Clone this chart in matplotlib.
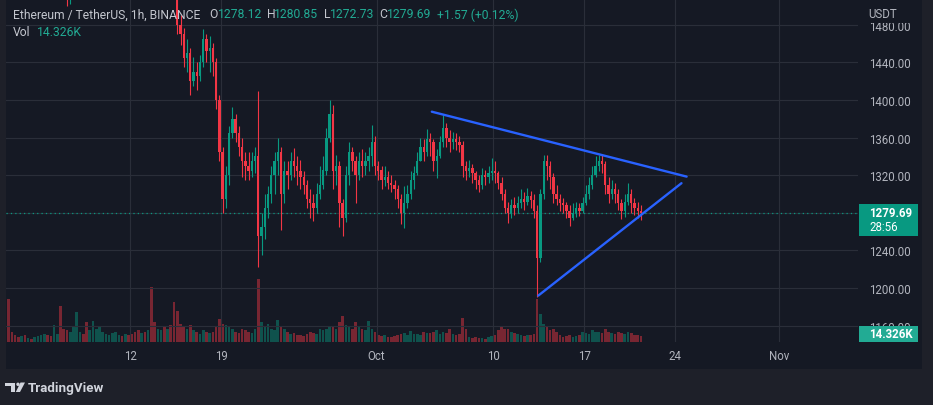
import numpy as np
import pandas as pd
import matplotlib
matplotlib.use("Agg")
import matplotlib.pyplot as plt
import matplotlib.dates as mdates
from matplotlib.patches import Rectangle, Polygon, Circle

plt.rcParams["font.family"] = ["Roboto", "DejaVu Sans"]

# ETH/USDT, 6h bars (one row per day: 00, 06, 12, 18 UTC)
first_open = 1590
closes = [
    1585, 1578,                                   # Sep 2 (12h, 18h)
    1575, 1568, 1572, 1560,  1565, 1558, 1570, 1578,  1590, 1612, 1600, 1595,
    1612, 1620, 1580, 1565,  1520, 1525, 1580, 1630,  1640, 1635, 1625, 1635,
    1660, 1690, 1710, 1718,  1725, 1740, 1755, 1768,  1770, 1762, 1765, 1760,
    1745, 1725, 1715, 1718,  1710, 1720, 1600, 1575,  1590, 1620, 1615, 1638,
    1630, 1590, 1480, 1470,  1445, 1450, 1420, 1430,  1425, 1440, 1465, 1452,
    1455, 1440, 1400, 1345,  1295, 1320, 1365, 1380,  1365, 1350, 1335, 1330,
    1325, 1335, 1340, 1255,  1265, 1285, 1300, 1320,  1335, 1345, 1300, 1325,
    1320, 1335, 1330, 1325,  1318, 1310, 1295, 1290,  1285, 1300, 1310, 1325,
    1360, 1385, 1325, 1330,  1290, 1275, 1320, 1345,  1335, 1320, 1335, 1330,
    1335, 1340, 1355, 1330,                       # Sep 30
    1325, 1315, 1318, 1312,  1310, 1305, 1295, 1280,  1290, 1300, 1315, 1322,
    1335, 1350, 1345, 1358,  1355, 1335, 1340, 1355,  1370, 1360, 1355, 1358,
    1355, 1352, 1330, 1325,  1328, 1322, 1315, 1310,  1320, 1318, 1322, 1325,
    1322, 1312, 1300, 1285,  1280, 1288, 1285, 1290,  1295, 1292, 1298, 1294,
    1282, 1232, 1300, 1335,  1330, 1318, 1300, 1295,  1290, 1288, 1282, 1275,
    1280, 1285, 1282, 1290,  1300, 1310, 1320, 1330,  1335, 1332, 1310, 1300,
    1305, 1300, 1290, 1282,  1292, 1300, 1290, 1285,
    1282, 1279.69,                                # Oct 21
]
highs = [
    1598, 1590,
    1585, 1578, 1580, 1575,  1570, 1568, 1575, 1585,  1598, 1622, 1615, 1605,
    1622, 1640, 1625, 1585,  1568, 1540, 1590, 1640,  1650, 1648, 1640, 1645,
    1668, 1700, 1720, 1730,  1735, 1750, 1765, 1785,  1785, 1775, 1772, 1770,
    1765, 1750, 1730, 1725,  1725, 1730, 1725, 1610,  1600, 1630, 1635, 1645,
    1650, 1640, 1600, 1490,  1477, 1465, 1455, 1446,  1440, 1448, 1475, 1470,
    1468, 1460, 1445, 1405,  1350, 1330, 1372, 1393,  1385, 1372, 1360, 1345,
    1345, 1345, 1350, 1409,  1280, 1300, 1308, 1330,  1345, 1360, 1350, 1335,
    1335, 1345, 1349, 1340,  1336, 1325, 1315, 1305,  1300, 1312, 1330, 1340,
    1370, 1400, 1395, 1342,  1335, 1295, 1330, 1355,  1350, 1340, 1345, 1348,
    1345, 1350, 1373, 1362,
    1335, 1330, 1330, 1325,  1320, 1315, 1310, 1300,  1308, 1310, 1325, 1330,
    1345, 1360, 1358, 1369,  1365, 1358, 1348, 1362,  1384, 1375, 1368, 1366,
    1365, 1362, 1356, 1335,  1336, 1332, 1325, 1320,  1328, 1326, 1330, 1338,
    1335, 1325, 1318, 1305,  1292, 1295, 1297, 1298,  1305, 1302, 1306, 1303,
    1300, 1288, 1305, 1342,  1342, 1335, 1322, 1310,  1300, 1296, 1292, 1288,
    1290, 1292, 1290, 1297,  1310, 1318, 1330, 1340,  1342, 1342, 1335, 1318,
    1315, 1312, 1305, 1295,  1300, 1312, 1305, 1296,
    1292, 1288,
]
lows = [
    1570, 1565,
    1562, 1558, 1562, 1552,  1552, 1550, 1555, 1565,  1572, 1585, 1590, 1585,
    1595, 1605, 1570, 1545,  1500, 1502, 1520, 1575,  1620, 1620, 1605, 1620,
    1630, 1655, 1685, 1700,  1712, 1720, 1738, 1750,  1755, 1750, 1752, 1745,
    1735, 1715, 1705, 1700,  1695, 1700, 1580, 1560,  1565, 1585, 1600, 1610,
    1610, 1580, 1470, 1458,  1435, 1430, 1405, 1415,  1411, 1420, 1435, 1440,
    1430, 1425, 1390, 1335,  1280, 1285, 1310, 1360,  1355, 1340, 1318, 1315,
    1315, 1318, 1322, 1222,  1235, 1252, 1275, 1290,  1300, 1320, 1262, 1290,
    1305, 1315, 1318, 1310,  1305, 1300, 1285, 1275,  1271, 1280, 1295, 1305,
    1320, 1355, 1305, 1310,  1265, 1255, 1270, 1310,  1325, 1290, 1315, 1318,
    1320, 1325, 1330, 1320,
    1315, 1305, 1308, 1305,  1302, 1295, 1285, 1268,  1264, 1285, 1295, 1305,
    1320, 1335, 1335, 1340,  1340, 1325, 1317, 1338,  1350, 1350, 1345, 1348,
    1347, 1345, 1318, 1315,  1318, 1312, 1305, 1302,  1305, 1310, 1312, 1315,
    1312, 1305, 1294, 1280,  1269, 1275, 1278, 1280,  1285, 1283, 1288, 1285,
    1275, 1191, 1228, 1295,  1315, 1305, 1290, 1288,  1282, 1280, 1275, 1266,
    1272, 1276, 1277, 1280,  1288, 1295, 1305, 1318,  1325, 1322, 1300, 1290,
    1295, 1290, 1283, 1273,  1276, 1288, 1280, 1278,
    1274, 1272.73,
]
# volume in thousands
volumes = [
    130, 30,
    20, 15, 18, 22,  12, 10, 15, 18,  20, 25, 22, 18,  51, 24, 108, 40,
    35, 30, 45, 90,  30, 25, 60, 35,  63, 40, 45, 30,  25, 20, 28, 30,
    22, 18, 25, 20,  25, 30, 35, 28,  30, 35, 165, 60,  40, 35, 45, 38,
    50, 120, 93, 55,  45, 40, 50, 35,  30, 25, 35, 30,  28, 30, 45, 69,
    54, 51, 45, 40,  30, 28, 38, 35,  30, 28, 40, 190,  60, 45, 54, 40,
    35, 66, 45, 38,  30, 25, 28, 22,  20, 18, 25, 30,  28, 25, 40, 35,
    38, 48, 45, 40,  60, 78, 50, 45,  40, 60, 45, 38,  35, 63, 40, 30,
    22, 18, 20, 15,  15, 18, 20, 25,  28, 22, 33, 25,  25, 22, 30, 28,
    28, 30, 35, 25,  30, 28, 39, 25,  22, 25, 72, 39,  15, 12, 14, 12,
    12, 10, 14, 18,  20, 36, 45, 40,  38, 30, 28, 25,  20, 18, 22, 20,
    25, 129, 84, 54,  48, 35, 38, 30,  20, 15, 18, 22,  15, 18, 20, 30,
    28, 25, 35, 30,  30, 28, 39, 30,  28, 25, 30, 28,  25, 30, 28, 22,
    20, 18,
]

price_ticks = [1160, 1200, 1240, 1280, 1320, 1360, 1400, 1440, 1480]
date_ticks = ["2022-09-12", "2022-09-19", "2022-10-01", "2022-10-10",
              "2022-10-17", "2022-10-24", "2022-11-01"]
date_labels = ["12", "19", "Oct", "10", "17", "24", "Nov"]

# triangle drawn on the chart
upper_line_t = ["2022-10-05 06:00", "2022-10-24 21:30"]
upper_line_p = [1387.5, 1318.5]
lower_line_t = ["2022-10-13 11:00", "2022-10-24 12:00"]
lower_line_p = [1192, 1311.5]

last_price = 1279.69

W, H = 933, 406
BG_OUT = "#1e2029"
BG_PANE = "#151924"
GRID = "#2a2e39"
TXT = "#b2b5be"
UP = "#089981"
DOWN = "#f23645"
BLUE = "#2962ff"

o = np.array([first_open] + closes[:-1], dtype=float)
c = np.array(closes, dtype=float)
hi = np.array(highs, dtype=float)
lo = np.array(lows, dtype=float)
vol = np.array(volumes, dtype=float)

times = pd.date_range("2022-09-02 12:00", periods=len(c), freq="6h")
tc = mdates.date2num(times) + 0.125
colors = np.where(c >= o, UP, DOWN)

fig = plt.figure(figsize=(W / 100, H / 100), dpi=100, facecolor=BG_OUT)

# pane background
bg = fig.add_axes([0, 0, 1, 1], zorder=0)
bg.set_xlim(0, W)
bg.set_ylim(H, 0)
bg.axis("off")
bg.add_patch(Rectangle((6, 0), 916, 370, color=BG_PANE, lw=0))

ax = fig.add_axes([6 / W, (H - 343) / H, 852 / W, 343 / H], zorder=2)
ax.patch.set_visible(False)
vax = ax.twinx()
vax.set_zorder(1)
vax.patch.set_visible(False)
vax.set_axis_off()

# volume
vax.bar(tc, vol, width=0.2, color=colors, alpha=0.45, linewidth=0)
vax.set_ylim(0, 190 * 343 / 63)

# candles
ax.vlines(tc, lo, hi, colors=colors, lw=0.8, zorder=3)
body = np.maximum(np.abs(c - o), 0.8)
ax.bar(tc, body, bottom=np.minimum(o, c), width=0.18, color=colors,
       linewidth=0, zorder=3)

ax.axhline(last_price, color=UP, lw=0.9, ls=(0, (1, 2.5)), zorder=2)

ax.plot(mdates.date2num(pd.to_datetime(upper_line_t)), upper_line_p,
        color=BLUE, lw=1.7, solid_capstyle="round", zorder=4)
ax.plot(mdates.date2num(pd.to_datetime(lower_line_t)), lower_line_p,
        color=BLUE, lw=1.7, solid_capstyle="round", zorder=4)

x0 = mdates.date2num(pd.Timestamp("2022-10-01")) - 28.58
ax.set_xlim(x0, x0 + 28.58 + 37.11)
ax.set_ylim(1142.7, 1507.3)

ax.set_yticks(price_ticks)
ax.set_yticklabels([f"{v:.2f}" for v in price_ticks])
ax.yaxis.tick_right()
ax.set_xticks(mdates.date2num(pd.to_datetime(date_ticks)))
ax.set_xticklabels(date_labels)
ax.tick_params(axis="y", length=0, pad=8, labelcolor=TXT, labelsize=8.3)
ax.tick_params(axis="x", length=0, pad=4.7, labelcolor=TXT, labelsize=8.3)
for s in ax.spines.values():
    s.set_visible(False)
ax.set_axisbelow(True)
ax.grid(color=GRID, lw=0.8)

# overlay in pixel coordinates
ov = fig.add_axes([0, 0, 1, 1], zorder=5)
ov.set_xlim(0, W)
ov.set_ylim(H, 0)
ov.axis("off")
ov.patch.set_visible(False)

# the USDT caption hides the top half of the 1480 label
ov.add_patch(Rectangle((859, 0), 62, 23.5, color=BG_PANE, lw=0))
ov.text(868, 14, "USDT", color=TXT, fontsize=8.3, va="center")

ov.add_patch(Rectangle((858.5, 205), 59.5, 32, color=UP, lw=0))
ov.text(869, 214, "1279.69", color="white", fontsize=8.3, fontweight="bold",
        va="center")
ov.text(869, 228, "28:56", color="white", fontsize=8.3, va="center")

ov.add_patch(Rectangle((858.5, 327), 59.5, 15.5, color="#22ab94", lw=0))
ov.text(869, 335, "14.326K", color="white", fontsize=8.3, fontweight="bold",
        va="center")

hdr = [(13, "Ethereum / TetherUS, 1h, BINANCE", "#c3c6ce"),
       (209, "O", "#c3c6ce"), (218, "1278.12", "#22ab94"),
       (267, "H", "#c3c6ce"), (274, "1280.85", "#22ab94"),
       (324, "L", "#c3c6ce"), (330, "1272.73", "#22ab94"),
       (379, "C", "#c3c6ce"), (387, "1279.69", "#22ab94"),
       (437, "+1.57 (+0.12%)", "#22ab94")]
for x, s, col in hdr:
    ov.text(x, 15, s, color=col, fontsize=8.7, va="center")
ov.text(13, 32, "Vol", color="#c3c6ce", fontsize=8.7, va="center")
ov.text(37, 32, "14.326K", color="#22ab94", fontsize=8.7, va="center")

# TradingView logo
logo = "#d1d4dc"
ov.add_patch(Rectangle((5, 383.5), 10, 3.2, color=logo, lw=0))
ov.add_patch(Rectangle((10.5, 383.5), 4.5, 9.5, color=logo, lw=0))
ov.add_patch(Circle((18, 385.3), 1.7, color=logo, lw=0))
ov.add_patch(Polygon([(20.5, 383.5), (25, 383.5), (20, 393), (15.8, 393)],
                     color=logo, lw=0))
ov.text(28, 388.5, "TradingView", color=logo, fontsize=9.6,
        fontweight="semibold", va="center")

fig.savefig("out.png", dpi=100, facecolor=BG_OUT)
